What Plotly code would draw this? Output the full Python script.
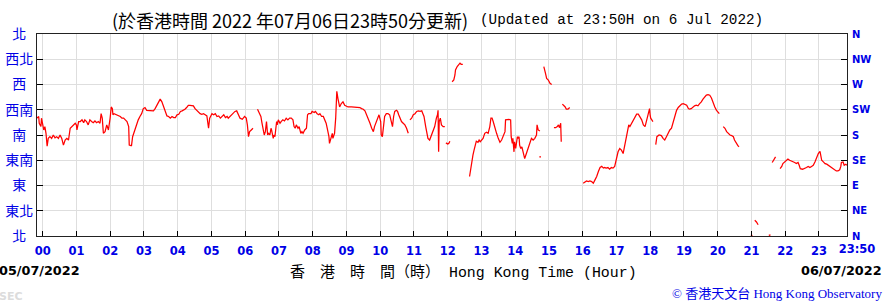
import plotly.graph_objects as go

# ---------------- data ----------------
# time in minutes after 00:00 on 06/07/2022 (negative = 05/07), wind direction in degrees
minute = [
    -10, -7, -6, -3, -2, 0, 2, 4, 6, 8, 10, 13, 16, 19, 22, 25, 28, 31, 34, 37, 40, 43, 46, 49, 52, 55, 58, 60, 61,
    64, 67, 70, 73, 75, 78, 81, 84, 87, 90, 93, 96, 99, 102, 104, 106, 108, 111, 114, 117, 120, 122, 124, 125, 127,
    132, 138, 141, 144, 147, 150, 153, 154, 157, 158, 160, 163, 164, 167, 170, 173, 176, 179, 182, 185, 191, 197,
    200, 203, 206, 209, 212, 215, 218, 221, 224, 227, 230, 233, 236, 239, 242, 245, 248, 250, 253, 256, 259, 262,
    265, 268, 271, 274, 277, 280, 283, 286, 289, 292, 295, 297, 299, 301, 304, 307, 310, 313, 316, 319, 322, 325,
    328, 330, 333, 336, 339, 342, 345, 348, 351, 355, 359, 362, 364, 366, 368, 371, 374, None,
    382, 384, 388, 390, 392, 394, 396, 398, 400, 402, 404, 406, 407, 410, 411, 413, 416, 417, 419, 422, 424, 427,
    430, 433, 436, 439, 442, 445, 447, 449, 451, 454, 456, 459, 461, 463, 466, 469, 471, 473, 477, 479, 483, 485,
    488, 491, 493, 496, 499, 502, 504, 506, 509, 510, 512, 515, 516, 518, 519, 521, 523, 525, 528, 531, 534, 537,
    540, 543, 549, 555, 561, 564, 567, 570, 573, 576, 579, 582, 585, 588, 590, 593, 596, 598, 601, 602, 604, 606,
    608, 611, 614, 617, 620, 622, 624, 626, 629, 631, 633, 636, 638, 641, 644, 647, 650, None,
    653, 656, 659, 662, 665, 668, 671, 674, 676, 678, 681, 683, 685, 688, 691, 694, 697, 700, 702, 703, 704, 705,
    707, 709, 712, 715, None,
    717, 720, 722, 724, None,
    728, 731, 733, 734, 737, 739, 742, 744, 747, None,
    759, 761, 763, 765, 767, 769, 771, 774, 776, 778, 781, 783, 786, 789, 792, 795, 797, 799, 801, 804, 807, 810,
    813, 816, 819, 822, 823, 826, 829, 832, 833, 835, 836, 838, 839, 841, 842, 844, 845, 847, 848, 850, 852, 854,
    857, 860, 863, 866, 869, 872, 875, 878, 879, 881, 884, None,
    883, 886, None,
    891, 893, 894, 896, 899, 902, 905, None,
    909, 912, 915, 917, 919, 921, 922, None,
    924, 927, 929, 931, 934, 937, None,
    961, 964, 967, 970, 973, 976, 979, 982, 985, 988, 991, 994, 997, 999, 1002, 1005, 1008, 1011, 1014, 1017,
    1020, 1023, 1026, 1029, 1032, 1034, 1036, 1038, 1040, 1042, 1044, 1047, 1050, 1053, 1056, 1059, 1062, 1065,
    1068, 1071, 1074, 1076, 1079, 1080, 1081, 1083, 1085, None,
    1090, 1092, 1096, 1100, 1103, 1106, 1109, 1112, 1115, 1118, 1121, 1124, 1127, 1130, 1133, 1136, 1139, 1142,
    1145, 1148, 1150, 1153, 1156, 1159, 1162, 1165, 1168, 1171, 1174, 1177, 1180, 1183, 1186, 1189, 1192, 1195,
    1198, 1201, 1203, None,
    1210, 1213, 1216, 1219, 1222, 1225, 1228, 1230, 1233, 1236, 1238, None,
    1259, 1262, None,
    1266, 1269, 1272, None,
    1291, 1294, None,
    1297, 1300, 1302, 1303, None,
    1311, 1314, 1316, 1319, 1322, 1325, 1328, 1331, 1334, 1337, 1340, 1343, 1345, 1347, 1351, 1355, 1358, 1361,
    1364, 1367, 1370, 1373, 1376, 1379, 1382, 1383, 1385, 1388, 1391, 1394, 1397, 1400, 1402, 1405, 1408, 1411,
    1414, 1417, 1419, 1420, 1423, 1425, 1428, 1430,
]

direction = [
    210, 213, 201, 195, 210, 198, 189, 195, 183, 160, 174, 177, 174, 180, 175, 177, 174, 180, 174, 162, 171, 174,
    171, 192, 195, 198, 201, 198, 189,
    204, 204, 207, 202, 207, 204, 198, 207, 204, 202, 205, 202, 204, 201, 218, 210, 183, 186, 198, 189, 210, 230,
    227, 216, 218,
    216, 213, 210, 210, 207, 204, 195, 162, 161, 161, 177, 186, 192, 201, 207, 213, 218, 227, 229, 224, 223, 223,
    227, 233, 239, 244, 239, 230, 222, 214, 213, 210, 213, 211, 211, 216, 217, 222, 223, 224, 226, 229, 233, 233,
    233, 232, 227, 224, 222, 218, 217, 218, 216, 214, 192, 210, 214, 218, 216, 218, 213, 214, 210, 213, 216, 211,
    213, 210, 213, 216, 218, 222, 223, 216, 210, 208, 213, 210, 198, 177, 186, 189, 192, None,
    226, 222, 213, 201, 186, 180, 186, 204, 180, 183, 180, 192, 189, 174, 180, 177, 204, 198, 207, 201, 204, 207,
    205, 210, 207, 210, 210, 207, 195, 192, 198, 192, 195, 183, 186, 183, 189, 192, 216, 218, 218, 222, 220, 222,
    218, 216, 218, 213, 213, 207, 201, 192, 177, 165, 171, 183, 174, 180, 183, 210, 258, 245, 230, 236, 239, 233,
    232, 230, 230, 230, 230, 229, 227, 226, 223, 216, 210, 201, 192, 186, 195, 204, 213, 216, 204, 180, 177, 195,
    213, 218, 218, 216, 201, 195, 213, 222, 224, 222, 216, 210, 204, 201, 198, 192, 183, None,
    207, 210, 216, 218, 222, 223, 222, 223, 218, 213, 195, 180, 174, 171, 180, 186, 195, 210, 216, 224, 150, 204,
    210, 198, 195, 195, None,
    166, 164, 165, 169, None,
    275, 278, 287, 296, 302, 305, 308, 306, 306, None,
    106, 120, 138, 144, 153, 165, 169, 167, 171, 168, 171, 174, 183, 185, 183, 195, 210, 210, 204, 192, 183, 174,
    167, 171, 177, 186, 207, 208, 208, 207, 177, 165, 174, 150, 168, 156, 162, 177, 174, 177, 162, 156, 159, 150,
    138, 147, 156, 168, 174, 171, 174, 180, 198, 189, 187, None,
    141, 141, None,
    302, 296, 290, 281, 278, 272, 270, None,
    193, 193, 195, 198, 193, 201, 168, None,
    235, 232, 230, 226, 226, 229, None,
    94, 96, 98, 97, 98, 97, 94, 100, 106, 115, 122, 124, 121, 122, 121, 122, 119, 122, 121, 124,
    138, 150, 156, 153, 147, 156, 165, 174, 189, 198, 195, 201, 207, 213, 217, 217, 213, 207,
    198, 195, 207, 218, 227, 216, 210, 207, 204, None,
    163, 177, 180, 179, 174, 171, 177, 183, 189, 192, 204, 216, 224, 229, 232, 235, 236, 235,
    233, 227, 226, 227, 230, 232, 233, 232, 236, 239, 244, 248, 251, 252, 251, 246, 236, 230,
    224, 220, 218, None,
    195, 192, 186, 183, 180, 179, 177, 171, 165, 161, 159, None,
    1, 1, None,
    28, 25, 20, None,
    1, 2, None,
    131, 135, 138, 141, None,
    120, 124, 129, 132, 135, 137, 135, 134, 132, 131, 129, 131, 126, 120, 119, 120, 122, 124,
    122, 124, 126, 132, 141, 147, 151, 144, 135, 132, 129, 128, 126, 124, 122, 120, 118, 116,
    116, 118, 124, 131, 132, 126, 128, 126,
]

hour_ticks = [h * 60 for h in range(24)]
hour_labels = ["%02d" % h for h in range(24)]
end_tick = [1430]
end_label = ["23:50"]
dir_ticks = [0, 45, 90, 135, 180, 225, 270, 315, 360]
dir_labels_zh = ["北\u2002", "東北", "東\u2002", "東南", "南\u2002", "西南", "西\u2002", "西北", "北\u2002"]
dir_labels_en = ["N", "NE", "E", "SE", "S", "SW", "W", "NW", "N"]

title_zh = "(於香港時間 2022 年07月06日23時50分更新)"
title_en = "(Updated at 23:50H on 6 Jul 2022)"
xtitle_zh = "香　港　時　間（時）"
xtitle_en = "Hong Kong Time (Hour)"
date_start = "05/07/2022"
date_end = "06/07/2022"

BLUE = "#0000e6"
CJK = "Noto Sans CJK TC"
MONO = "Liberation Mono"
TICKFONT = dict(family="DejaVu Sans", size=11.5, color=BLUE, weight="bold")

fig = go.Figure()
fig.add_trace(go.Scatter(
    x=minute, y=direction, mode="lines", connectgaps=False,
    line=dict(color="#ff0000", width=1.25), hoverinfo="skip", showlegend=False,
))
fig.add_trace(go.Scatter(
    x=[None], y=[None], yaxis="y2", mode="lines", showlegend=False, hoverinfo="skip",
))
fig.add_trace(go.Scatter(
    x=[None], y=[None], xaxis="x2", mode="lines", showlegend=False, hoverinfo="skip",
))

W, H = 884, 302
L, R, T, B = 37, 37, 34, 66
pw, ph = W - L - R, H - T - B


def px(xp):
    return (xp - L) / pw


def py(yp):
    return (H - B - yp) / ph


fig.update_layout(
    width=W, height=H,
    margin=dict(l=L, r=R, t=T, b=B, pad=0, autoexpand=False),
    paper_bgcolor="white", plot_bgcolor="white",
    showlegend=False,
    xaxis=dict(
        range=[-10, 1430], tickmode="array", tickvals=hour_ticks, ticktext=hour_labels,
        ticks="inside", ticklen=5, tickcolor="#000", tickwidth=1, tickangle=0,
        showgrid=True, gridcolor="#dedede", gridwidth=1, zeroline=False,
        showline=True, linecolor="#222", linewidth=1, mirror=True,
        tickfont=TICKFONT, ticklabelstandoff=4, automargin=False,
    ),
    xaxis2=dict(
        range=[-10, 1430], tickmode="array", tickvals=end_tick, ticktext=end_label,
        overlaying="x", side="bottom", anchor="y",
        ticks="inside", ticklen=5, tickcolor="#000", tickwidth=1, tickangle=0,
        showgrid=False, zeroline=False, showline=False,
        tickfont=TICKFONT, ticklabelstandoff=4, ticklabelshift=10, automargin=False,
    ),
    yaxis=dict(
        range=[0, 360], tickmode="array", tickvals=dir_ticks, ticktext=dir_labels_zh,
        ticks="inside", ticklen=6, tickcolor="#000", tickwidth=1,
        showgrid=True, gridcolor="#dedede", gridwidth=1, zeroline=False,
        showline=True, linecolor="#222", linewidth=1, mirror=True,
        tickfont=dict(family=CJK, size=14, color=BLUE),
        ticklabelstandoff=0, automargin=False,
    ),
    yaxis2=dict(
        range=[0, 360], tickmode="array", tickvals=dir_ticks, ticktext=dir_labels_en,
        overlaying="y", side="right", anchor="x",
        ticks="inside", ticklen=6, tickcolor="#000", tickwidth=1,
        showgrid=False, zeroline=False, showline=False,
        tickfont=dict(family="DejaVu Sans", size=10, color=BLUE, weight="bold"),
        ticklabelstandoff=4, automargin=False,
    ),
)

ann = [
    dict(text=f"<span style=\"font-family:'{CJK}';font-size:18px\">{title_zh}</span>",
         x=px(469), y=py(20), xanchor="right", yanchor="middle",
         font=dict(family=MONO, size=14.3, color="#000")),
    dict(text=title_en,
         x=px(479), y=py(20), xanchor="left", yanchor="middle",
         font=dict(family=MONO, size=14.3, color="#000")),
    dict(text=f"<span style=\"font-family:'{CJK}';font-size:15px\">{xtitle_zh}</span> {xtitle_en}",
         x=px(289), y=py(270.5), xanchor="left", yanchor="middle",
         font=dict(family=MONO, size=14.9, color="#000")),
    dict(text=date_start, x=px(-2), y=py(270.5), xanchor="left", yanchor="middle",
         font=dict(family="DejaVu Sans", size=12.8, color="#000", weight="bold")),
    dict(text=date_end, x=px(883), y=py(270.5), xanchor="right", yanchor="middle",
         font=dict(family="DejaVu Sans", size=12.8, color="#000", weight="bold")),
    dict(text="SEC", x=px(-2), y=py(296), xanchor="left", yanchor="middle",
         font=dict(family="DejaVu Sans", size=11, color="#dcdcdc", weight="bold")),
    dict(text=f"© <span style=\"font-family:'{CJK}'\">香港天文台</span> Hong Kong Observatory",
         x=px(883), y=py(292), xanchor="right", yanchor="middle",
         font=dict(family="Liberation Serif", size=13, color=BLUE)),
]
for a in ann:
    a.update(xref="paper", yref="paper", showarrow=False, borderpad=0)
    fig.add_annotation(**a)

fig.write_html("out.html")
